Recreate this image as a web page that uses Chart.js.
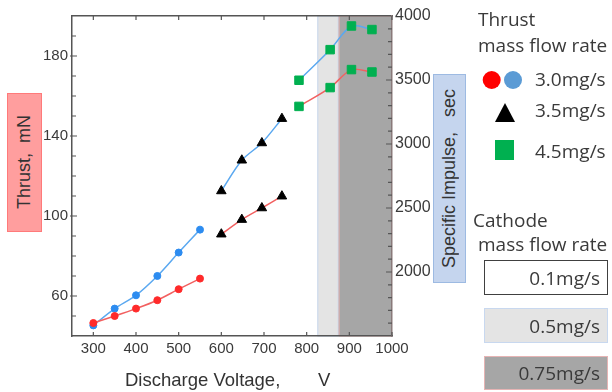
<!DOCTYPE html>
<html>
<head>
<meta charset="utf-8">
<script src="https://cdn.jsdelivr.net/npm/chart.js@4/dist/chart.umd.min.js"></script>
<style>
body{margin:0;background:#fff;}
#wrap{position:relative;width:612px;height:392px;font-family:"Liberation Sans",Arial,sans-serif;color:#3a3a3a;overflow:hidden;}
canvas{position:absolute;left:0;top:0;}
.vbox{position:absolute;display:flex;align-items:center;justify-content:center;box-sizing:border-box;}
.vbox span{writing-mode:vertical-rl;transform:rotate(180deg);font-size:18px;white-space:pre;color:#333;}
.xt{position:absolute;font-size:18.5px;line-height:18px;white-space:pre;color:#333;}
.leg{position:absolute;font-family:"Open Sans",sans-serif;font-size:19px;line-height:18px;color:#3a3a3a;white-space:nowrap;}
.cbox{position:absolute;box-sizing:border-box;left:484px;width:124px;display:flex;align-items:center;justify-content:flex-end;padding-right:7px;font-family:"Open Sans",sans-serif;font-size:19px;color:#3a3a3a;}
</style>
</head>
<body>
<div id="wrap">
<canvas id="chart" width="612" height="392"></canvas>

<div class="vbox" style="left:7px;top:93px;width:35px;height:139px;background:#ff9e9e;border:1.5px solid #ff7a7a;"><span>Thrust,  mN</span></div>
<div class="vbox" style="left:433px;top:74px;width:33px;height:209px;background:#c5d5ee;border:1.5px solid #9dbae2;"><span>Specific Impulse,   sec</span></div>
<div class="xt" style="left:125px;top:371px;">Discharge Voltage,</div>
<div class="xt" style="left:318px;top:371px;">V</div>

<div class="leg" style="left:478px;top:10px;">Thrust</div>
<div class="leg" style="left:478px;top:36px;">mass flow rate</div>
<svg style="position:absolute;left:480px;top:66px;" width="50" height="100">
  <circle cx="11.7" cy="14" r="9" fill="#ff0000"/>
  <circle cx="33" cy="14" r="9" fill="#5b9bd5"/>
  <polygon points="25,37 35,56 15,56" fill="#000"/>
</svg>
<div style="position:absolute;left:495px;top:140px;width:19px;height:20px;background:#00b050;"></div>
<div class="leg" style="left:535px;top:70px;">3.0mg/s</div>
<div class="leg" style="left:535px;top:101px;">3.5mg/s</div>
<div class="leg" style="left:535px;top:142px;">4.5mg/s</div>

<div class="leg" style="left:473px;top:211px;">Cathode</div>
<div class="leg" style="left:478px;top:235px;">mass flow rate</div>
<div class="cbox" style="top:260px;height:35px;background:#fff;border:1.5px solid #404040;">0.1mg/s</div>
<div class="cbox" style="top:308px;height:35px;background:#e4e4e4;border:1.5px solid #c8d8ef;">0.5mg/s</div>
<div class="cbox" style="top:356px;height:34px;background:#a6a6a6;border:1.5px solid #e6b4b4;">0.75mg/s</div>
</div>

<script>
// thrust mass flow rate 3.0 mg/s
const voltage30 = [300, 350, 400, 450, 500, 550]
const thrust30 = [46.5, 50, 53.7, 57.9, 63.4, 68.7]
const isp30 = [1583, 1714, 1818, 1969, 2152, 2331]
// 3.5 mg/s
const voltage35 = [600, 648, 695, 742]
const thrust35 = [90.9, 98.2, 104, 109.9]
const isp35 = [2633, 2873, 3008, 3198]
// 4.5 mg/s
const voltage45 = [782, 855, 905, 953]
const thrust45 = [154.8, 164.2, 173.2, 172]
const isp45 = [3498, 3737, 3922, 3894]

const xTicks = [300, 400, 500, 600, 700, 800, 900, 1000]
const thrustTicks = [60, 100, 140, 180]
const ispTicks = [2000, 2500, 3000, 3500, 4000]
// cathode flow bands along voltage
const band05 = [825, 875]
const band075 = [875, 1000]

const redLine = "#f26060", blueLine = "#5aa8f0"
const axisColor = "#555", labelColor = "#3a3a3a"

function pts(xs, ys){
    return xs.map((x, i)=>({x: x, y: ys[i]}))
}

function series(label, xs, ys, axis, line, style, fill, r){
    return {
        label: label,
        data: pts(xs, ys),
        yAxisID: axis,
        borderColor: line,
        borderWidth: 1.5,
        pointStyle: style,
        pointBackgroundColor: fill,
        pointBorderColor: fill,
        pointBorderWidth: 1,
        pointRadius: r,
        tension: 0.3,
        fill: false
    }
}

const bands = {
    id: "bands",
    beforeDraw(chart){
        const {ctx, chartArea: a, scales: {x}} = chart
        ctx.save()
        const draw = (b, fill, stroke)=>{
            const x0 = x.getPixelForValue(b[0]), x1 = x.getPixelForValue(b[1])
            ctx.fillStyle = fill
            ctx.fillRect(x0, a.top, x1 - x0, a.bottom - a.top)
            ctx.strokeStyle = stroke
            ctx.lineWidth = 1
            ctx.strokeRect(x0 + 0.5, a.top, x1 - x0 - 1, a.bottom - a.top)
        }
        draw(band05, "#e4e4e4", "#c8d8ef")
        draw(band075, "#a6a6a6", "#e0b0b0")
        ctx.restore()
    }
}

const tickMarks = {
    id: "tickMarks",
    afterDraw(chart){
        const {ctx, chartArea: a, scales: {x, y, y1}} = chart
        ctx.save()
        ctx.strokeStyle = axisColor
        ctx.lineWidth = 1.2
        ctx.beginPath()
        xTicks.forEach(v=>{
            const px = x.getPixelForValue(v)
            ctx.moveTo(px, a.bottom); ctx.lineTo(px, a.bottom - 4)
            ctx.moveTo(px, a.top); ctx.lineTo(px, a.top + 4)
        })
        for(let v = 50; v < 200; v += 10){
            const py = y.getPixelForValue(v)
            const major = thrustTicks.includes(v)
            ctx.moveTo(a.left - (major ? 2 : 0), py); ctx.lineTo(a.left + (major ? 5 : 4), py)
        }
        for(let v = 1600; v < 4000; v += 100){
            const py = y1.getPixelForValue(v)
            const major = ispTicks.includes(v)
            ctx.moveTo(a.right, py); ctx.lineTo(a.right - (major ? 6 : 4), py)
        }
        ctx.stroke()
        ctx.restore()
    }
}

const font = (size)=>({family: "'Liberation Sans', Arial, sans-serif", size: size})
const plain = v=>String(v)

new Chart(document.querySelector("#chart"), {
    type: "line",
    data: {
        datasets: [
            series("thrust 3.0", voltage30, thrust30, "y", redLine, "circle", "#ff2a2a", 3.5),
            series("isp 3.0", voltage30, isp30, "y1", blueLine, "circle", "#2d8cf0", 3.5),
            series("thrust 3.5", voltage35, thrust35, "y", redLine, "triangle", "#000", 5.5),
            series("isp 3.5", voltage35, isp35, "y1", blueLine, "triangle", "#000", 5.5),
            series("thrust 4.5", voltage45, thrust45, "y", redLine, "rect", "#00b050", 6),
            series("isp 4.5", voltage45, isp45, "y1", blueLine, "rect", "#00b050", 6)
        ]
    },
    options: {
        responsive: false,
        animation: false,
        layout: {padding: 0},
        plugins: {
            legend: {display: false},
            tooltip: {enabled: false}
        },
        scales: {
            x: {
                type: "linear", position: "bottom", min: 250, max: 1000,
                afterBuildTicks: s=>{ s.ticks = xTicks.map(v=>({value: v})) },
                afterFit: s=>{ s.height = 56 },
                ticks: {font: font(15), color: labelColor, padding: 4, maxRotation: 0, autoSkip: false, callback: plain},
                grid: {display: false, drawTicks: false},
                border: {color: axisColor, width: 1.5}
            },
            xTop: {
                type: "linear", position: "top", min: 250, max: 1000,
                afterFit: s=>{ s.height = 16 },
                ticks: {display: false},
                grid: {display: false, drawTicks: false},
                border: {color: axisColor, width: 1.5}
            },
            y: {
                position: "left", min: 40, max: 200,
                afterBuildTicks: s=>{ s.ticks = thrustTicks.map(v=>({value: v})) },
                afterFit: s=>{ s.width = 72 },
                ticks: {font: font(15), color: labelColor, padding: 4, autoSkip: false, callback: plain},
                grid: {display: false, drawTicks: false},
                border: {color: axisColor, width: 1.5}
            },
            y1: {
                position: "right", min: 1500, max: 4000,
                afterBuildTicks: s=>{ s.ticks = ispTicks.map(v=>({value: v})) },
                afterFit: s=>{ s.width = 220 },
                ticks: {font: font(16), color: labelColor, padding: 3, autoSkip: false, callback: plain},
                grid: {display: false, drawTicks: false},
                border: {color: "#8a7a7a", width: 1.5}
            }
        }
    },
    plugins: [bands, tickMarks]
})
</script>
</body>
</html>
